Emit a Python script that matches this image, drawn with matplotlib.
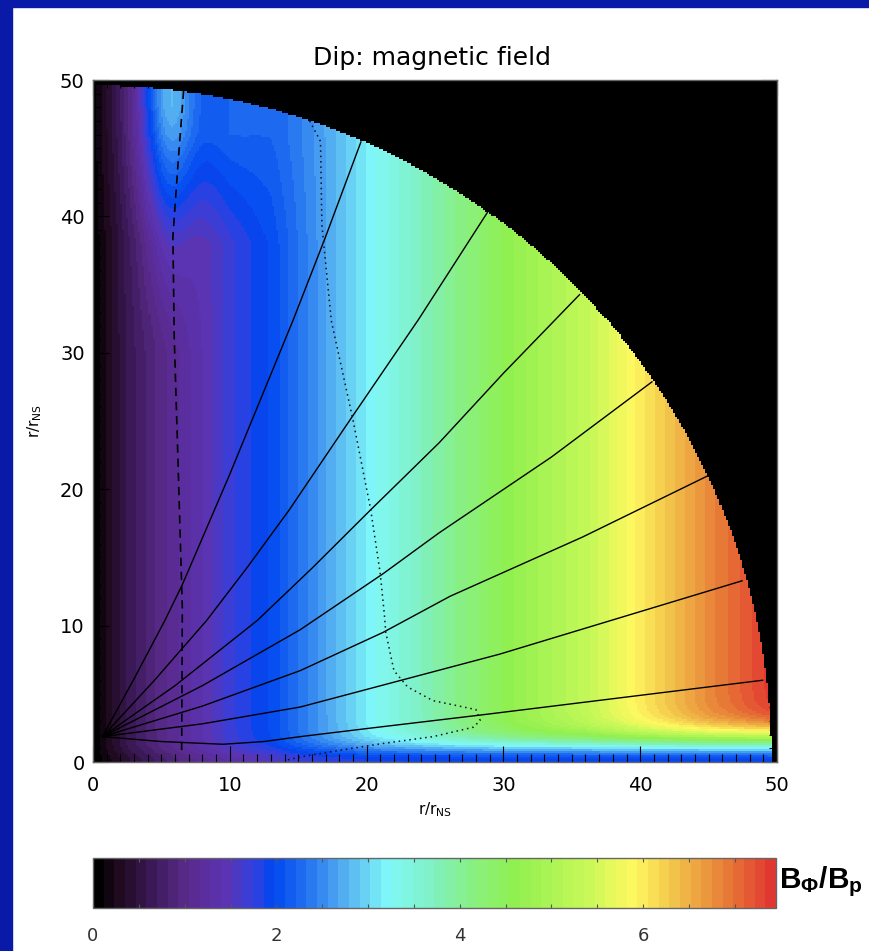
import numpy as np
import matplotlib
matplotlib.use("Agg")
import matplotlib.pyplot as plt
from matplotlib.colors import LinearSegmentedColormap, ListedColormap, Normalize
from matplotlib.ticker import MultipleLocator
from matplotlib.patches import Rectangle
import matplotlib.cm as cm

plt.rcParams["mathtext.rm"] = "Liberation Sans:bold"
plt.rcParams["mathtext.it"] = "Liberation Sans:bold"
plt.rcParams["mathtext.bf"] = "Liberation Sans:bold"

# ---- data -------------------------------------------------------------
R_OUT = 49.6                      # outer radius of the computational domain
VMAX = 7.45                       # upper end of the B_phi/B_p colour scale

# B_phi/B_p versus cylindrical radius (away from the equator)
prof_x = [0, 1, 2.5, 5, 8, 10, 13, 16, 21, 26, 31, 36, 40, 45, 49.6]
prof_v = [0, 0.25, 0.6, 1.0, 1.4, 1.7, 2.0, 2.5, 3.3, 4.0, 4.7, 5.3, 6.0, 6.8, 7.4]

# B_phi/B_p on the equatorial plane and thickness of the equatorial layer
eq_x = [0, 3, 6, 10, 15, 20, 30, 50]
eq_v = [0, 0.5, 0.9, 1.3, 1.7, 1.85, 1.9, 1.95]
layer_x = [0, 20, 50]
layer_w = [0.8, 1.2, 2.0]

# enhancement near the rotation axis at large height
plume_x, plume_w, plume_amp = 5.4, 1.9, 1.25
cap_x, cap_w, cap_amp = 8.0, 5.0, 0.6

# poloidal field lines (x, y) in units of r_NS
line1_x = [0.69, 3.0, 5.25, 6.53, 10.0, 14.65, 17.0, 19.6]
line1_y = [1.86, 6.1, 10.37, 13.0, 21.1, 32.45, 38.5, 45.5]
line2_x = [0.69, 4.5, 8.3, 11.3, 14.35, 18.8, 23.8, 28.9]
line2_y = [1.86, 6.0, 10.37, 14.3, 18.49, 25.1, 32.45, 40.4]
line3_x = [0.69, 6.0, 12.0, 16.0, 20.3, 25.3, 30.0, 35.6]
line3_y = [1.86, 5.6, 10.37, 14.2, 18.49, 23.4, 28.5, 34.3]
line4_x = [0.69, 8.0, 15.15, 21.2, 25.3, 33.5, 40.9]
line4_y = [1.86, 5.6, 9.7, 13.8, 16.8, 22.35, 27.9]
line5_x = [0.69, 8.0, 15.15, 21.2, 26.1, 35.8, 44.9]
line5_y = [1.86, 4.1, 6.7, 9.5, 12.15, 16.5, 20.96]
line6_x = [0.69, 8.0, 15.15, 29.7, 47.5]
line6_y = [1.86, 2.8, 4.03, 7.9, 13.3]
line7_x = [0.69, 5.0, 9.5, 12.5, 15.15, 20.0, 28.3, 49.0]
line7_y = [1.86, 1.5, 1.3, 1.5, 1.86, 2.45, 3.44, 6.0]
field_lines = [(line1_x, line1_y), (line2_x, line2_y), (line3_x, line3_y),
               (line4_x, line4_y), (line5_x, line5_y), (line6_x, line6_y),
               (line7_x, line7_y)]

# light cylinder (dashed) and fast surface (dotted)
lc_x = [6.48, 6.53, 6.24, 5.94, 5.84, 6.24, 6.63]
lc_y = [0.87, 11.26, 21.16, 31.06, 38.5, 44.2, 49.3]
fs_x = [15.84, 16.63, 16.73, 17.42, 19.0, 20.3, 21.0, 21.3, 21.4, 22.0, 23.0,
        24.85, 28.0, 28.3, 27.8, 24.85, 21.2, 17.5, 15.15, 14.0]
fs_y = [47.0, 45.5, 39.4, 32.35, 25.1, 18.5, 13.8, 10.8, 9.5, 6.7, 5.5,
        4.5, 3.84, 3.04, 2.55, 1.86, 1.36, 0.77, 0.37, 0.1]

axis_ticks = [0, 10, 20, 30, 40, 50]
cbar_ticks = [0, 2, 4, 6]

# ---- colour table -----------------------------------------------------
cmap_pos = [0.00, 0.03, 0.08, 0.13, 0.19, 0.23, 0.26, 0.31, 0.36, 0.43,
            0.50, 0.56, 0.62, 0.72, 0.80, 0.86, 0.93, 1.00]
cmap_col = ["#000000", "#1e0a1e", "#3c1a58", "#5a2a8c", "#5a34b4", "#3040e0",
            "#0046f0", "#2270f0", "#50a8f0", "#80f8f8", "#80f0c0", "#88f080",
            "#90f050", "#c4f858", "#fff860", "#f2c24a", "#e88038", "#e03830"]
base = LinearSegmentedColormap.from_list("bphi", list(zip(cmap_pos, cmap_col)))
cmap = ListedColormap(base(np.linspace(0, 1, 64)))
cmap.set_bad("black")
norm = Normalize(0, VMAX)

# ---- figure -----------------------------------------------------------
W, H = 870, 951
fig = plt.figure(figsize=(W / 100, H / 100), dpi=100)
fig.patch.set_facecolor("white")
frame_blue = "#0a1aa8"
fig.patches.append(Rectangle((0, 0), 12 / W, 1, transform=fig.transFigure,
                             color=frame_blue, zorder=0))
fig.patches.append(Rectangle((0, 1 - 7 / H), 1, 7 / H, transform=fig.transFigure,
                             color=frame_blue, zorder=0))

ax = fig.add_axes([93 / W, 1 - 762 / H, 684 / W, 682 / H])
ax.set_facecolor("black")

n = 340
gx = np.linspace(0, 50, n)
gy = np.linspace(0, 50, n)
X, Y = np.meshgrid(gx, gy)
f = np.interp(X, prof_x, prof_v)
b = np.interp(X, eq_x, eq_v)
w = np.interp(X, layer_x, layer_w)
val = f - (f - b) * np.exp(-(Y / w) ** 2)
val = val + plume_amp * np.exp(-((X - plume_x) / plume_w) ** 2) * np.clip((Y - 30) / 18, 0, 1) ** 1.3
val = val + cap_amp * np.exp(-((X - cap_x) / cap_w) ** 2) * np.clip((Y - 38) / 8, 0, 1)
val = np.ma.masked_where(np.hypot(X, Y) > R_OUT, val)
mesh = ax.pcolormesh(X, Y, val, cmap=cmap, norm=norm, shading="nearest",
                     rasterized=True)

for lx, ly in field_lines:
    ax.plot(lx, ly, color="black", lw=1.0, solid_capstyle="butt")
ax.plot(lc_x, lc_y, color="black", lw=1.2, dashes=(5, 3.5))
ax.plot(fs_x, fs_y, color="#111111", lw=1.1, dashes=(1, 2.5))

ax.set_xlim(0, 50)
ax.set_ylim(0, 50)
ax.set_xticks(axis_ticks)
ax.set_yticks(axis_ticks)
ax.xaxis.set_minor_locator(MultipleLocator(1))
ax.yaxis.set_minor_locator(MultipleLocator(1))
ax.tick_params(which="both", direction="in", top=True, right=True,
               color="black", width=0.8)
ax.tick_params(which="major", length=11.5)
ax.tick_params(which="minor", length=6)
ax.tick_params(axis="x", labelsize=14, pad=10)
ax.tick_params(axis="y", labelsize=14, pad=6)
for sp in ax.spines.values():
    sp.set_color("#666666")
    sp.set_linewidth(1.0)

fig.text(432 / W, 1 - 58 / H, "Dip: magnetic field", ha="center", va="center",
         fontsize=18)
fig.text(435 / W, 1 - 810 / H, r"r/r$_{\rm NS}$", ha="center", va="center",
         fontsize=11, math_fontfamily="dejavusans")
fig.text(35 / W, 1 - 421 / H, r"r/r$_{\rm NS}$", ha="center", va="center",
         fontsize=11, rotation=90, math_fontfamily="dejavusans")

# ---- colour bar -------------------------------------------------------
cax = fig.add_axes([93 / W, 1 - 908 / H, 683 / W, 50 / H])
sm = cm.ScalarMappable(norm=norm, cmap=cmap)
cb = fig.colorbar(sm, cax=cax, orientation="horizontal", ticks=cbar_ticks)
cax.xaxis.set_minor_locator(MultipleLocator(0.5))
cax.tick_params(which="both", direction="in", top=True, bottom=True,
                color="#555555", length=3, width=0.8)
cax.tick_params(axis="x", labelsize=13, pad=14, labelcolor="#333333")
cb.outline.set_edgecolor("#666666")
cb.outline.set_linewidth(1.0)

fig.text(779 / W, 1 - 882 / H, r"$\mathbf{B_{\Phi}/B_{p}}$", ha="left",
         va="center", fontsize=21.5, math_fontfamily="custom")

fig.savefig("out.png", dpi=100)
